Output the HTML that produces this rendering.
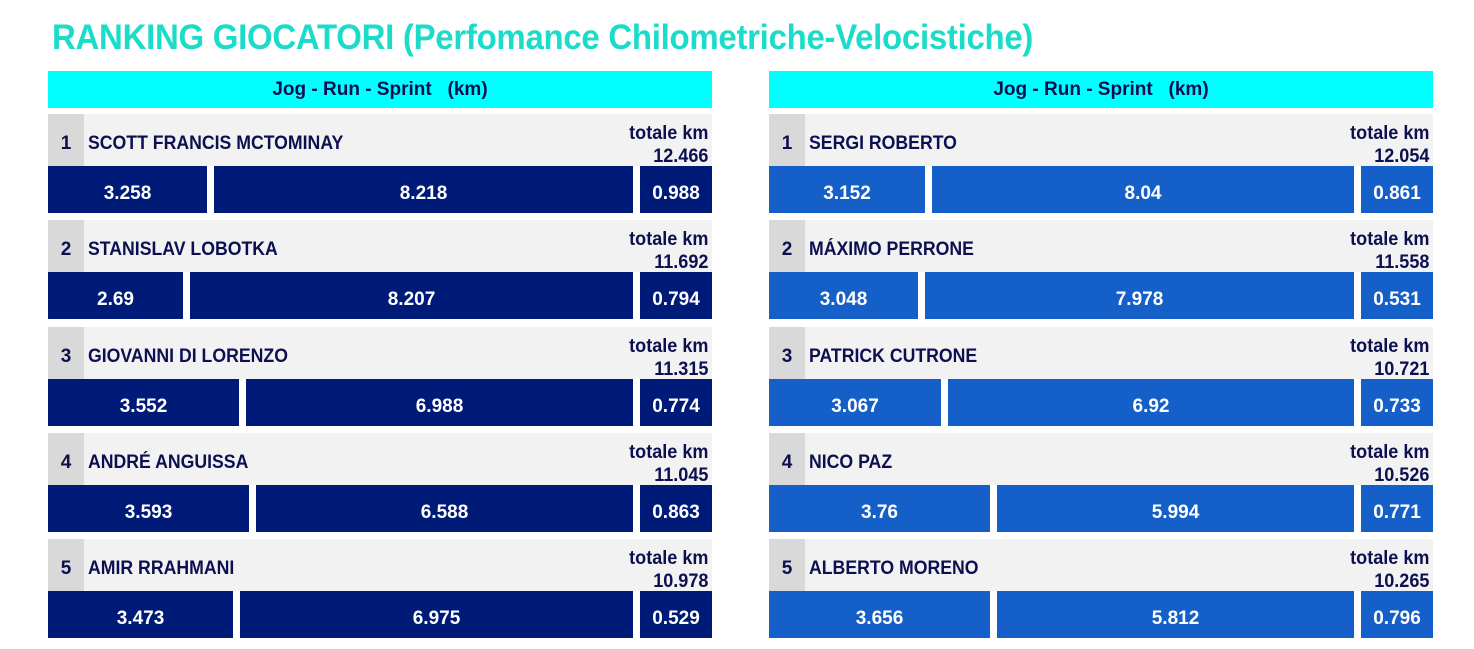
<!DOCTYPE html>
<html><head><meta charset="utf-8"><style>
*{margin:0;padding:0;box-sizing:border-box}
body{width:1474px;height:649px;background:#fff;position:relative;overflow:hidden;font-family:"Liberation Sans",sans-serif;font-weight:bold}
div{position:absolute}
.t{left:52px;top:18px;font-size:35px;color:#1bdcc9;white-space:nowrap;letter-spacing:-0.3px;transform:scaleX(0.942);transform-origin:left top}
.h{height:37px;top:71px;width:664px;background:#00ffff;color:#0d1050;font-size:19px;text-align:center;line-height:37px}
.g{height:52px;width:664px;background:#f2f2f2}
.n{left:0;top:0;width:36px;height:52px;background:#d9d9d9;color:#0d1050;font-size:19px;text-align:center;line-height:60px}
.nm{left:40px;top:0;line-height:60px;font-size:19px;color:#0d1050;white-space:nowrap;transform:scaleX(0.93);transform-origin:left top}
.tk{right:4px;top:8px;text-align:right;font-size:19px;line-height:23px;color:#0d1050;transform:scaleX(0.95);transform-origin:right top}
.b{height:47px;color:#fff;font-size:19px;text-align:center;line-height:56px}
.L{background:#001a78}.R{background:#1560c8}
</style></head><body>
<div class="t">RANKING GIOCATORI (Perfomance Chilometriche-Velocistiche)</div>
<div class="h" style="left:48px">Jog - Run - Sprint &nbsp; (km)</div>
<div class="h" style="left:769px">Jog - Run - Sprint &nbsp; (km)</div>

<div class="g" style="left:48px;top:114px"><div class="n">1</div><div class="nm">SCOTT FRANCIS MCTOMINAY</div><div class="tk">totale km<br>12.466</div></div>
<div class="b L" style="left:48px;top:166px;width:159px">3.258</div><div class="b L" style="left:214px;top:166px;width:419px">8.218</div><div class="b L" style="left:640px;top:166px;width:72px">0.988</div>

<div class="g" style="left:48px;top:220px"><div class="n">2</div><div class="nm">STANISLAV LOBOTKA</div><div class="tk">totale km<br>11.692</div></div>
<div class="b L" style="left:48px;top:272px;width:135px">2.69</div><div class="b L" style="left:190px;top:272px;width:443px">8.207</div><div class="b L" style="left:640px;top:272px;width:72px">0.794</div>

<div class="g" style="left:48px;top:327px"><div class="n">3</div><div class="nm">GIOVANNI DI LORENZO</div><div class="tk">totale km<br>11.315</div></div>
<div class="b L" style="left:48px;top:379px;width:191px">3.552</div><div class="b L" style="left:246px;top:379px;width:387px">6.988</div><div class="b L" style="left:640px;top:379px;width:72px">0.774</div>

<div class="g" style="left:48px;top:433px"><div class="n">4</div><div class="nm">ANDRÉ ANGUISSA</div><div class="tk">totale km<br>11.045</div></div>
<div class="b L" style="left:48px;top:485px;width:201px">3.593</div><div class="b L" style="left:256px;top:485px;width:377px">6.588</div><div class="b L" style="left:640px;top:485px;width:72px">0.863</div>

<div class="g" style="left:48px;top:539px"><div class="n">5</div><div class="nm">AMIR RRAHMANI</div><div class="tk">totale km<br>10.978</div></div>
<div class="b L" style="left:48px;top:591px;width:185px">3.473</div><div class="b L" style="left:240px;top:591px;width:393px">6.975</div><div class="b L" style="left:640px;top:591px;width:72px">0.529</div>

<div class="g" style="left:769px;top:114px"><div class="n">1</div><div class="nm">SERGI ROBERTO</div><div class="tk">totale km<br>12.054</div></div>
<div class="b R" style="left:769px;top:166px;width:156px">3.152</div><div class="b R" style="left:932px;top:166px;width:422px">8.04</div><div class="b R" style="left:1361px;top:166px;width:72px">0.861</div>

<div class="g" style="left:769px;top:220px"><div class="n">2</div><div class="nm">MÁXIMO PERRONE</div><div class="tk">totale km<br>11.558</div></div>
<div class="b R" style="left:769px;top:272px;width:149px">3.048</div><div class="b R" style="left:925px;top:272px;width:429px">7.978</div><div class="b R" style="left:1361px;top:272px;width:72px">0.531</div>

<div class="g" style="left:769px;top:327px"><div class="n">3</div><div class="nm">PATRICK CUTRONE</div><div class="tk">totale km<br>10.721</div></div>
<div class="b R" style="left:769px;top:379px;width:172px">3.067</div><div class="b R" style="left:948px;top:379px;width:406px">6.92</div><div class="b R" style="left:1361px;top:379px;width:72px">0.733</div>

<div class="g" style="left:769px;top:433px"><div class="n">4</div><div class="nm">NICO PAZ</div><div class="tk">totale km<br>10.526</div></div>
<div class="b R" style="left:769px;top:485px;width:221px">3.76</div><div class="b R" style="left:997px;top:485px;width:357px">5.994</div><div class="b R" style="left:1361px;top:485px;width:72px">0.771</div>

<div class="g" style="left:769px;top:539px"><div class="n">5</div><div class="nm">ALBERTO MORENO</div><div class="tk">totale km<br>10.265</div></div>
<div class="b R" style="left:769px;top:591px;width:221px">3.656</div><div class="b R" style="left:997px;top:591px;width:357px">5.812</div><div class="b R" style="left:1361px;top:591px;width:72px">0.796</div>
</body></html>
